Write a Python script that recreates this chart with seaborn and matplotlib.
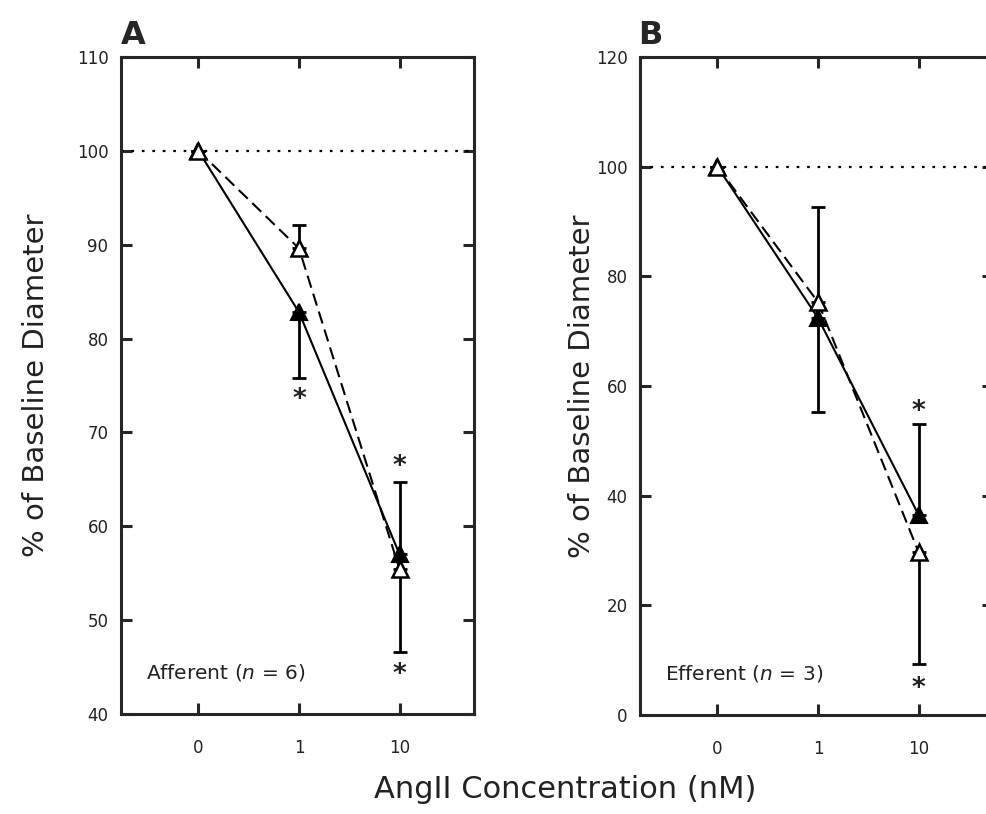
import numpy as np
import pandas as pd
import seaborn as sns
import matplotlib
matplotlib.use("Agg")
import matplotlib.pyplot as plt
from matplotlib.transforms import offset_copy

sns.set_style("ticks")
plt.rcParams['font.family'] = ['DejaVu Sans']

# ---- data ----
conc_labels = ['0', '1', '10']
positions = [0, 1, 2]

A_filled = [100, 82.8, 57.0]
A_filled_err_lo = [0, 7.0, 0]
A_filled_err_hi = [0, 0, 7.7]
A_open = [100, 89.6, 55.4]
A_open_err_lo = [0, 0, 8.8]
A_open_err_hi = [0, 2.5, 0]
A_stars = [(1, 74.1), (2, 66.9), (2, 44.7)]

B_filled = [100, 72.4, 36.5]
B_filled_err_lo = [0, 17.1, 0]
B_filled_err_hi = [0, 0, 16.6]
B_open = [100, 75.3, 29.7]
B_open_err_lo = [0, 0, 20.4]
B_open_err_hi = [0, 17.3, 0]
B_stars = [(2, 56.2), (2, 5.8)]

A_yticks = [40, 50, 60, 70, 80, 90, 100, 110]
B_yticks = [0, 20, 40, 60, 80, 100, 120]

W, H = 987, 814
fig = plt.figure(figsize=(W / 100, H / 100), dpi=100)

axA = fig.add_axes([121 / W, 1 - 714 / H, 353 / W, 657 / H])
axB = fig.add_axes([640 / W, 1 - 715 / H, 353 / W, 658 / H])


def draw(ax, filled, f_lo, f_hi, opn, o_lo, o_hi, stars, yticks, note, ylab_x):
    df_f = pd.DataFrame({'pos': positions, 'val': filled})
    df_o = pd.DataFrame({'pos': positions, 'val': opn})
    ax.axhline(100, color='black', lw=1.6, ls=(0, (1.2, 3.5)), zorder=1)
    ax.errorbar(positions, filled, yerr=[f_lo, f_hi], fmt='none', ecolor='black',
                elinewidth=2, capsize=5, capthick=2, zorder=2)
    ax.errorbar(positions, opn, yerr=[o_lo, o_hi], fmt='none', ecolor='black',
                elinewidth=2, capsize=5, capthick=2, zorder=2)
    sns.lineplot(data=df_f, x='pos', y='val', ax=ax, color='black', lw=1.5,
                 marker='^', markersize=12, markerfacecolor='black',
                 markeredgecolor='black', markeredgewidth=1.5, zorder=3)
    sns.lineplot(data=df_o, x='pos', y='val', ax=ax, color='black', lw=1.5,
                 dashes=(6, 3), marker='^', markersize=12, markerfacecolor='white',
                 markeredgecolor='black', markeredgewidth=1.8, zorder=4)
    star_tr = offset_copy(ax.transData, fig=fig, x=0, y=-4, units='points')
    for x, y in stars:
        ax.text(x, y, '*', ha='center', va='center', fontsize=19, fontweight='bold',
                color='#222222', transform=star_tr)
    ax.set_xlim(-0.77, 2.74)
    ax.set_ylim(yticks[0], yticks[-1])
    ax.set_xticks(positions)
    ax.set_xticklabels(conc_labels)
    ax.set_yticks(yticks)
    ax.set_xlabel('')
    ax.set_ylabel('% of Baseline Diameter', fontsize=21, color='#222222')
    ax.yaxis.set_label_coords(ylab_x, 0.5)
    ax.tick_params(direction='in', length=8, width=2.2, top=True, right=True,
                   labelsize=12, labelcolor='#222222')
    ax.tick_params(axis='y', pad=9)
    ax.tick_params(axis='x', pad=18)
    for s in ax.spines.values():
        s.set_visible(True)
        s.set_linewidth(2.2)
    ax.text(0.07, 0.063, note, transform=ax.transAxes, fontsize=14.5,
            ha='left', va='center', color='#222222')


draw(axA, A_filled, A_filled_err_lo, A_filled_err_hi, A_open, A_open_err_lo,
     A_open_err_hi, A_stars, A_yticks, 'Afferent ($\\it{n}$ = 6)', -0.20)
draw(axB, B_filled, B_filled_err_lo, B_filled_err_hi, B_open, B_open_err_lo,
     B_open_err_hi, B_stars, B_yticks, 'Efferent ($\\it{n}$ = 3)', -0.125)

fig.text(121 / W, 1 - 44 / H, 'A', fontsize=23, fontweight='bold', ha='left', va='baseline')
fig.text(638 / W, 1 - 44 / H, 'B', fontsize=23, fontweight='bold', ha='left', va='baseline')
fig.text(565 / W, 1 - 790 / H, 'AngII Concentration (nM)', fontsize=22,
         ha='center', va='center', color='#222222')

fig.savefig('out.png', dpi=100)
